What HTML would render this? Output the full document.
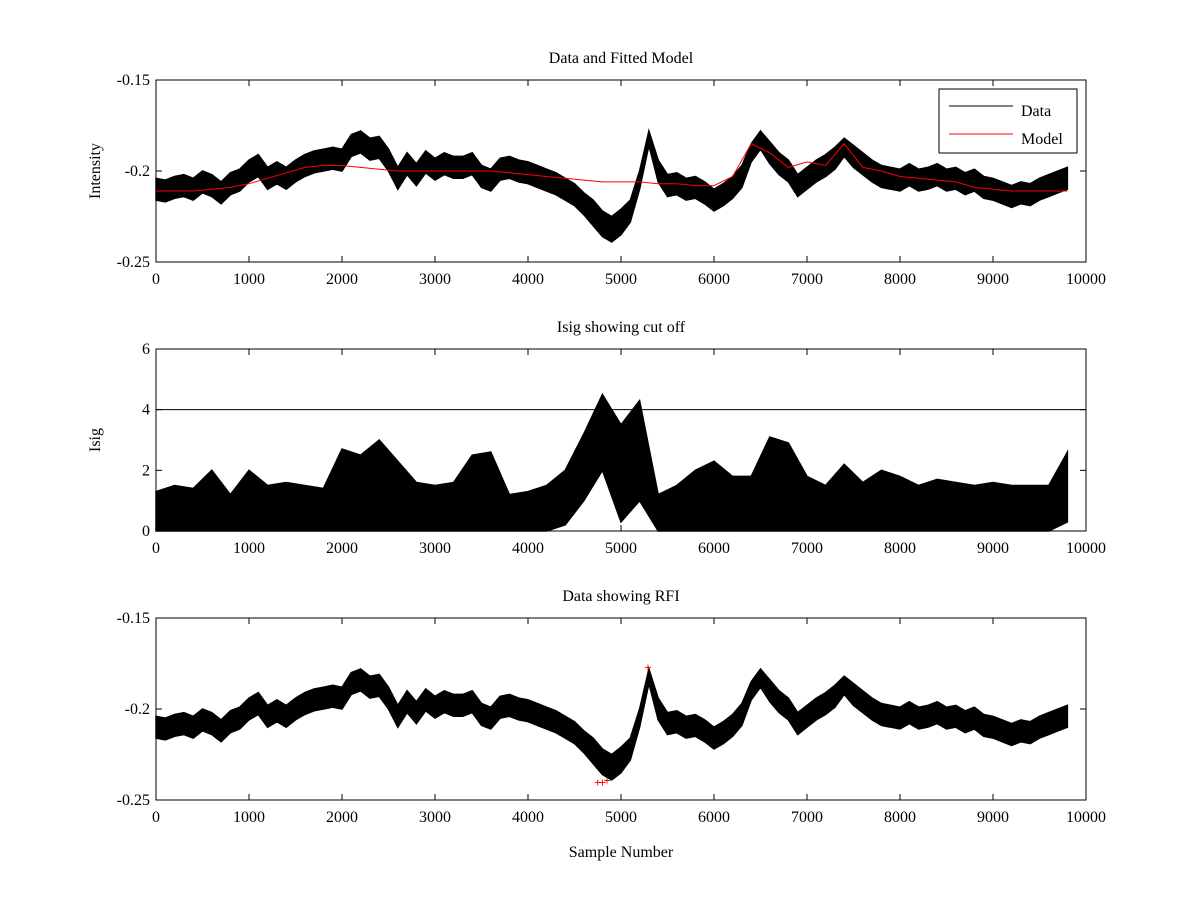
<!DOCTYPE html>
<html><head><meta charset="utf-8"><style>
body{margin:0;background:#fff}
svg{display:block}
text{font-family:"Liberation Serif",serif;font-size:16px;fill:#000}
</style></head><body>
<svg id="chart" width="1200" height="900"></svg>
<script>
// ---- data (bin step 100 samples) ----
const dataCenter=[-0.210,-0.211,-0.209,-0.208,-0.210,-0.206,-0.208,-0.212,-0.207,-0.205,
-0.200,-0.197,-0.204,-0.201,-0.204,-0.200,-0.197,-0.195,-0.194,-0.193,
-0.194,-0.186,-0.184,-0.188,-0.187,-0.194,-0.204,-0.196,-0.202,-0.195,
-0.199,-0.196,-0.198,-0.198,-0.196,-0.203,-0.205,-0.199,-0.198,-0.200,
-0.201,-0.203,-0.205,-0.207,-0.210,-0.213,-0.218,-0.223,-0.229,-0.232,
-0.228,-0.222,-0.205,-0.182,-0.200,-0.208,-0.207,-0.210,-0.209,-0.212,
-0.216,-0.213,-0.209,-0.203,-0.190,-0.183,-0.190,-0.196,-0.200,-0.208,
-0.204,-0.200,-0.197,-0.193,-0.187,-0.192,-0.196,-0.200,-0.203,-0.204,
-0.205,-0.202,-0.205,-0.204,-0.202,-0.205,-0.204,-0.207,-0.205,-0.209,
-0.210,-0.212,-0.214,-0.212,-0.213,-0.210,-0.208,-0.206,-0.204];
const dataSpread=[0.006,0.006,0.006,0.006,0.006,0.006,0.006,0.006,0.006,0.006,
0.006,0.006,0.006,0.006,0.006,0.006,0.006,0.006,0.006,0.006,
0.006,0.006,0.006,0.006,0.006,0.006,0.006,0.006,0.006,0.006,
0.006,0.006,0.006,0.006,0.006,0.006,0.006,0.006,0.006,0.006,
0.006,0.006,0.006,0.006,0.006,0.006,0.006,0.007,0.007,0.007,
0.007,0.006,0.005,0.004,0.006,0.006,0.006,0.006,0.006,0.006,
0.006,0.006,0.006,0.006,0.005,0.005,0.006,0.006,0.006,0.006,
0.006,0.006,0.006,0.006,0.005,0.006,0.006,0.006,0.006,0.006,
0.006,0.006,0.006,0.006,0.006,0.006,0.006,0.006,0.006,0.006,
0.006,0.006,0.006,0.006,0.006,0.006,0.006,0.006,0.006];
// model (step 200 samples)
const modelVals=[-0.211,-0.211,-0.211,-0.210,-0.209,-0.207,-0.204,-0.201,-0.198,-0.197,
-0.197,-0.198,-0.199,-0.200,-0.200,-0.200,-0.200,-0.200,-0.200,-0.201,
-0.202,-0.203,-0.204,-0.205,-0.206,-0.206,-0.206,-0.207,-0.207,-0.208,
-0.208,-0.203,-0.185,-0.190,-0.198,-0.195,-0.197,-0.185,-0.198,-0.200,
-0.203,-0.204,-0.205,-0.206,-0.209,-0.210,-0.211,-0.211,-0.211,-0.211];
// Isig band (step 200 samples)
const isigHi=[1.3,1.5,1.4,2.0,1.2,2.0,1.5,1.6,1.5,1.4,2.7,2.5,3.0,2.3,1.6,1.5,1.6,2.5,2.6,1.2,
1.3,1.5,2.0,3.2,4.5,3.5,4.3,1.2,1.5,2.0,2.3,1.8,1.8,3.1,2.9,1.8,1.5,2.2,1.6,2.0,
1.8,1.5,1.7,1.6,1.5,1.6,1.5,1.5,1.5,2.6];
const isigLo=[0,0,0,0,0,0,0,0,0,0,0,0,0,0,0,0,0,0,0,0,
0,0,0.2,1.0,2.0,0.3,1.0,0,0,0,0,0,0,0,0,0,0,0,0,0,
0,0,0,0,0,0,0,0,0,0.3];
const cutoff=4;
const rfiX=[4750,4800,4850,5290];
const rfiY=[-0.240,-0.240,-0.239,-0.177];
const xTicks=[0,1000,2000,3000,4000,5000,6000,7000,8000,9000,10000];

const NS="http://www.w3.org/2000/svg";
const svg=document.getElementById('chart');
function el(t,a,p){const e=document.createElementNS(NS,t);for(const k in a)e.setAttribute(k,a[k]);(p||svg).appendChild(e);return e;}
const X0=156,X1=1086;
const xs=v=>X0+(v/10000)*(X1-X0);
function panel(top,ymin,ymax,yticks,ylabels,title,ylabel,name){
  const bot=top+182;
  const ys=v=>bot-(v-ymin)/(ymax-ymin)*182;
  const g=el('g',{});
  
  el('rect',{x:X0,y:top,width:X1-X0,height:182,fill:'none',stroke:'#000','stroke-width':1},g);
  xTicks.forEach(t=>{const x=xs(t);
    el('line',{x1:x,x2:x,y1:bot,y2:bot-6,stroke:'#000'},g);el('line',{x1:x,x2:x,y1:top,y2:top+6,stroke:'#000'},g);
    const tx=el('text',{x:x,y:bot+22,'text-anchor':'middle'},g);tx.textContent=t;
    });
  yticks.forEach((t,i)=>{const y=ys(t);
    el('line',{x1:X0,x2:X0+6,y1:y,y2:y,stroke:'#000'},g);el('line',{x1:X1,x2:X1-6,y1:y,y2:y,stroke:'#000'},g);
    const tx=el('text',{x:X0-6,y:y+5,'text-anchor':'end'},g);tx.textContent=ylabels[i];
    });
  const tt=el('text',{x:(X0+X1)/2,y:top-17,'text-anchor':'middle'},g);tt.textContent=title;
  
  const yl=el('text',{x:0,y:0,'text-anchor':'middle',transform:`translate(100,${top+91}) rotate(-90)`},g);yl.textContent=ylabel;
  
  return {g,ys,bot};
}
function band(g,ys,hi,lo,step,name){
  let up=[],dn=[];
  hi.forEach((v,i)=>up.push(xs(i*step)+','+ys(v).toFixed(1)));
  for(let i=lo.length-1;i>=0;i--)dn.push(xs(i*step)+','+ys(lo[i]).toFixed(1));
  const p=el('polygon',{points:up.concat(dn).join(' '),fill:'#000',stroke:'#000','stroke-width':1.5},g);
  
}
function dataBand(P,name){
  band(P.g,P.ys,dataCenter.map((c,i)=>c+dataSpread[i]),dataCenter.map((c,i)=>c-dataSpread[i]),100,name);
}
// panel 1
const P1=panel(80,-0.25,-0.15,[-0.25,-0.2,-0.15],['-0.25','-0.2','-0.15'],'Data and Fitted Model','Intensity','data-model-panel');
dataBand(P1,'data-series');
const ml=el('polyline',{points:modelVals.map((v,i)=>xs(i*200)+','+P1.ys(v).toFixed(1)).join(' '),fill:'none',stroke:'#f00','stroke-width':1},P1.g);

const lg=el('g',{},P1.g);
el('rect',{x:939,y:89,width:138,height:64,fill:'#fff',stroke:'#000'},lg);
el('line',{x1:949,x2:1013,y1:106,y2:106,stroke:'#000'},lg);
el('line',{x1:949,x2:1013,y1:134,y2:134,stroke:'#f00'},lg);
let t=el('text',{x:1021,y:116},lg);t.textContent='Data';
t=el('text',{x:1021,y:144},lg);t.textContent='Model';
// panel 2
const P2=panel(349,0,6,[0,2,4,6],['0','2','4','6'],'Isig showing cut off','Isig','isig-panel');
band(P2.g,P2.ys,isigHi,isigLo,200,'isig-series');
const cl=el('line',{x1:X0,x2:X1,y1:P2.ys(cutoff),y2:P2.ys(cutoff),stroke:'#000'},P2.g);

// panel 3
const P3=panel(618,-0.25,-0.15,[-0.25,-0.2,-0.15],['-0.25','-0.2','-0.15'],'Data showing RFI','','rfi-panel');
dataBand(P3,'data-series');
rfiX.forEach((x,i)=>{const m=el('text',{x:xs(x),y:P3.ys(rfiY[i])+5,'text-anchor':'middle',style:'fill:#f00;font-size:13px;font-weight:bold'},P3.g);m.textContent='+';
  });
const xl=el('text',{x:(X0+X1)/2,y:857,'text-anchor':'middle'});xl.textContent='Sample Number';

</script>
</body></html>
